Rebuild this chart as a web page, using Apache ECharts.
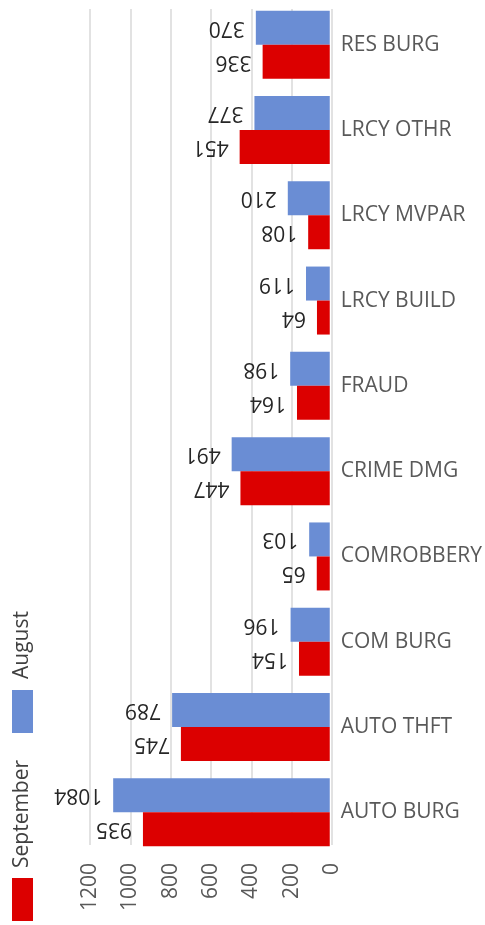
<!DOCTYPE html>
<html><head><meta charset="utf-8">
<script src="https://cdn.jsdelivr.net/npm/echarts@6/dist/echarts.min.js"></script>
<style>html,body{margin:0;padding:0;background:#fff}#c{width:485px;height:925px}</style>
</head><body><div id="c"></div>
<script>
const categories = ['RES BURG','LRCY OTHR','LRCY MVPAR','LRCY BUILD','FRAUD','CRIME DMG','COMROBBERY','COM BURG','AUTO THFT','AUTO BURG'];
const august = [370,377,210,119,198,491,103,196,789,1084];
const september = [336,451,108,64,164,447,65,154,745,935];
const valueTicks = [0,200,400,600,800,1000,1200];
const seriesNames = ['August','September'];

const FONT = 'Open Sans';
const chart = echarts.init(document.getElementById('c'), null, {renderer:'canvas'});
const lbl = {show:true, position:'left', rotate:180, align:'left', verticalAlign:'middle', distance:11,
  color:'#262626', fontFamily:FONT, fontSize:21};
chart.setOption({
  animation:false,
  grid:[
    {left:90, right:153, top:2, bottom:70},
    {left:90, right:153, top:9, bottom:80}
  ],
  xAxis:[
    {gridIndex:0, type:'value', inverse:true, min:valueTicks[0], max:valueTicks[valueTicks.length-1], interval:200,
      axisLabel:{show:false}, splitLine:{show:false}, axisLine:{show:false}, axisTick:{show:false}},
    {gridIndex:1, type:'value', inverse:true, min:valueTicks[0], max:valueTicks[valueTicks.length-1], interval:200,
      axisLabel:{rotate:90, margin:18, color:'#595959', fontFamily:FONT, fontSize:21, formatter:v=>String(v)},
      splitLine:{show:true, lineStyle:{color:'#d9d9d9', width:1.5}}, axisLine:{show:false}, axisTick:{show:false}}
  ],
  yAxis:[
    {gridIndex:0, type:'category', data:categories, inverse:true, position:'right',
      axisLine:{show:false}, axisTick:{show:false},
      axisLabel:{margin:11, color:'#595959', fontFamily:FONT, fontSize:21}},
    {gridIndex:1, type:'category', data:categories, show:false}
  ],
  series:[
    {name:seriesNames[0], type:'bar', xAxisIndex:0, yAxisIndex:0, data:august, barWidth:34, barGap:'0%',
      itemStyle:{color:'#6a8dd4'}, label:lbl},
    {name:seriesNames[1], type:'bar', xAxisIndex:0, yAxisIndex:0, data:september, barWidth:34, barGap:'0%',
      itemStyle:{color:'#dc0000'}, label:lbl}
  ],
  graphic:[
    {type:'rect', shape:{x:12, y:690, width:21, height:43}, style:{fill:'#6a8dd4'}},
    {type:'rect', shape:{x:12, y:878, width:21, height:43}, style:{fill:'#dc0000'}},
    {type:'text', x:22, y:679, rotation:Math.PI/2, style:{text:seriesNames[0], align:'left', verticalAlign:'middle', fill:'#404040', font:'21px "Open Sans"'}},
    {type:'text', x:22, y:868, rotation:Math.PI/2, style:{text:seriesNames[1], align:'left', verticalAlign:'middle', fill:'#404040', font:'21px "Open Sans"'}}
  ]
});
</script></body></html>
